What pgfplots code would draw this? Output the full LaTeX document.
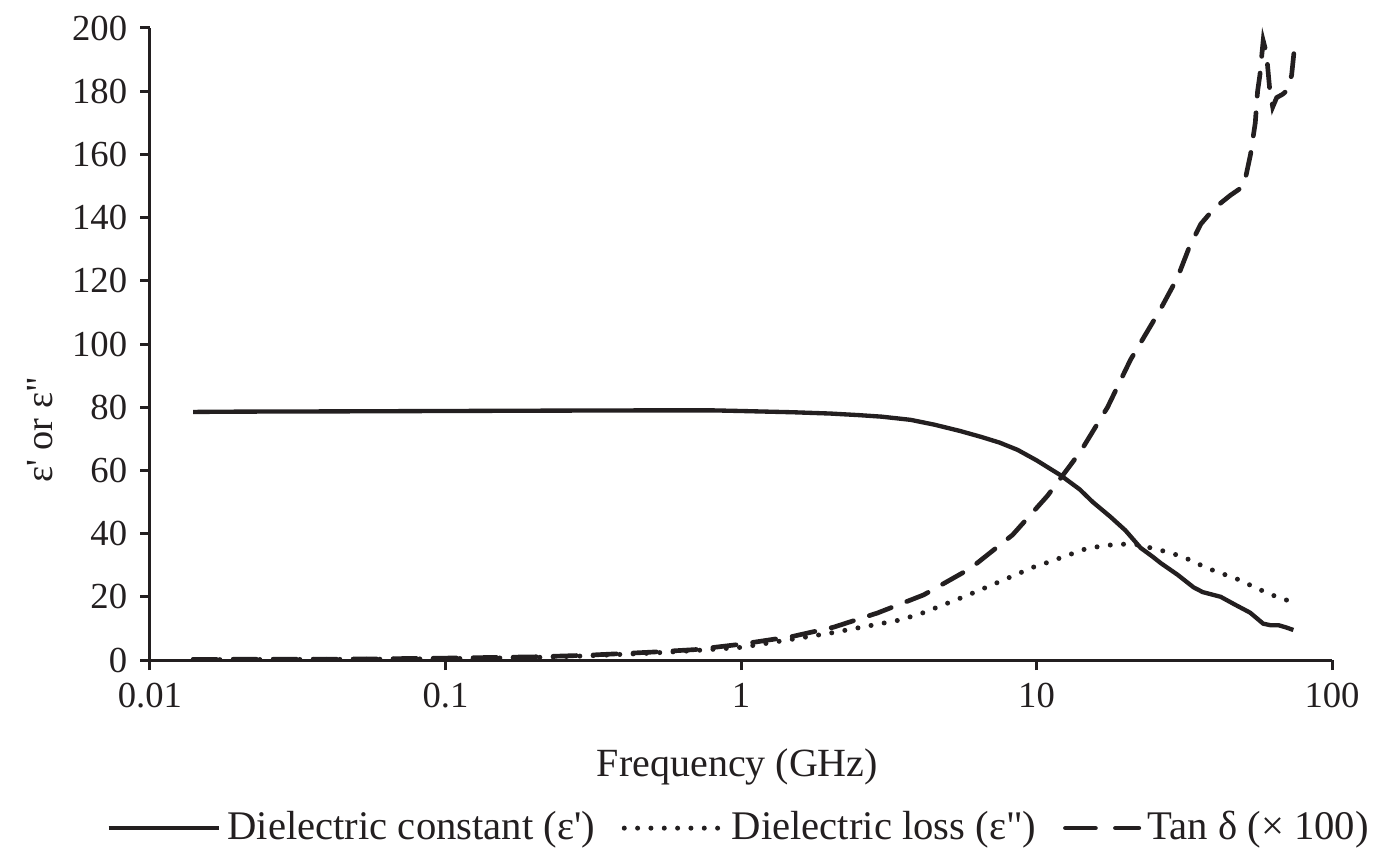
\documentclass[border=0pt]{standalone}
\usepackage{fontspec}
\setmainfont{Liberation Serif}[Ligatures=TeXOff]
\usepackage{pgfplots}
\pgfplotsset{compat=1.18}
\definecolor{ink}{HTML}{231F20}
\pgfplotsset{
  legsolid/.style={legend image code/.code={\draw[##1] (0pt,0pt) -- (33pt,0pt);}},
  legdot/.style={legend image code/.code={\draw[##1] (0pt,0pt) -- (29.5pt,0pt);}},
  legdash/.style={legend image code/.code={\draw[##1, dash pattern=on 9pt off 6pt] (0pt,0pt) -- (22pt,0pt);}},
}
\begin{document}
\fontsize{11}{13}\selectfont
\begin{tikzpicture}
\begin{axis}[
  scale only axis, width=354.6pt, height=189.6pt,
  xmode=log, xmin=0.01, xmax=100, ymin=0, ymax=200,
  xtick={0.01,0.1,1,10,100},
  xticklabels={0.01,0.1,1,10,100},
  ytick={0,20,...,200},
  xminorticks=false,
  axis lines=left,
  axis line style={-, line width=0.9pt, ink},
  tick align=outside, major tick length=3pt,
  tick style={line width=0.9pt, ink},
  /pgf/number format/assume math mode=true,
  ticklabel style={font=\fontsize{11}{13}\selectfont, text=ink},
  xlabel={Frequency (GHz)},
  ylabel={ε' or ε"},
  xlabel style={at={(axis description cs:0.497,-0.169)}, anchor=center, font=\fontsize{12}{14}\selectfont, text=ink},
  ylabel style={at={(axis description cs:-0.093,0.364)}, anchor=center, font=\fontsize{11.5}{13}\selectfont, text=ink},
  legend columns=3,
  legend style={at={(axis description cs:0.5,-0.266)}, anchor=center, draw=none, fill=none,
    font=\fontsize{12.2}{14}\selectfont, text=ink,
    /tikz/every even column/.append style={column sep=6pt}},
]
\addplot[line width=1.3pt, ink, legsolid] coordinates {
(0.014,78.5) (0.02,78.6) (0.05,78.7) (0.1,78.8) (0.2,78.9) (0.5,79.0) (0.8,79.0)
(1.0,78.8) (1.5,78.4) (2,78.0) (2.5,77.5) (3,77.0) (3.75,76.0) (4.5,74.5)
(5.5,72.5) (6.5,70.6) (7.5,68.8) (8.63,66.5) (10,63.2) (12.05,58.5) (14,54.0)
(15.5,50.0) (17.8,45.3) (20,41.0) (22.5,35.5) (24.8,32.6) (26.3,30.7) (30,27.0)
(34,23.0) (36.5,21.5) (42,20.0) (47,17.5) (52.8,15.0) (56,13.0) (58.5,11.5)
(62,11.0) (66,11.0) (70,10.3) (74,9.5)
};
\addlegendentry{Dielectric constant (ε')}
\addplot[line width=1.5pt, ink, line cap=round, dash pattern=on 0pt off 4pt, legdot] coordinates {
(0.014,0.1) (0.05,0.2) (0.1,0.4) (0.2,0.8) (0.3,1.3) (0.5,2.2) (0.7,3.0)
(1.0,4.0) (1.59,7.0) (2.0,8.5) (3.47,12.7) (4.15,15.0) (5.85,20.5) (8.04,26.0)
(9.77,29.4) (11,31.0) (14.9,35.4) (18.8,36.7) (22,36.5) (27.7,34.2) (31.4,32.6)
(38,29.0) (47.8,25.6) (58.5,21.8) (65,20.0) (73.3,18.4)
};
\addlegendentry{Dielectric loss (ε")}
\addplot[line width=1.4pt, ink, line cap=round, dash pattern=on 7pt off 5pt, legdash] coordinates {
(0.014,0.2) (0.05,0.3) (0.1,0.6) (0.2,1.0) (0.3,1.5) (0.5,2.5) (0.7,3.3)
(1.0,5.0) (1.5,7.5) (2.06,10.4) (2.9,14.9) (4.15,20.6) (5.98,29.0) (8.3,39.6)
(10.9,52.0) (14.1,66.0) (17.4,80.0) (20.8,95.0) (26.2,110.8) (30,121) (33,131) (36,138)
(40,143) (45.2,147) (50.3,150) (53,160) (55,170) (56,180) (57,185) (58.5,196) (60,192)
(61.5,181) (63,175) (65,178) (68,179) (70,180) (73,185) (74.3,192)
};
\addlegendentry{Tan δ (× 100)}
\end{axis}
\pgfresetboundingbox
\useasboundingbox ([xshift=-45pt,yshift=-56.7pt]current axis.south west) rectangle ([xshift=14.1pt,yshift=8.4pt]current axis.north east);
\end{tikzpicture}
\end{document}
